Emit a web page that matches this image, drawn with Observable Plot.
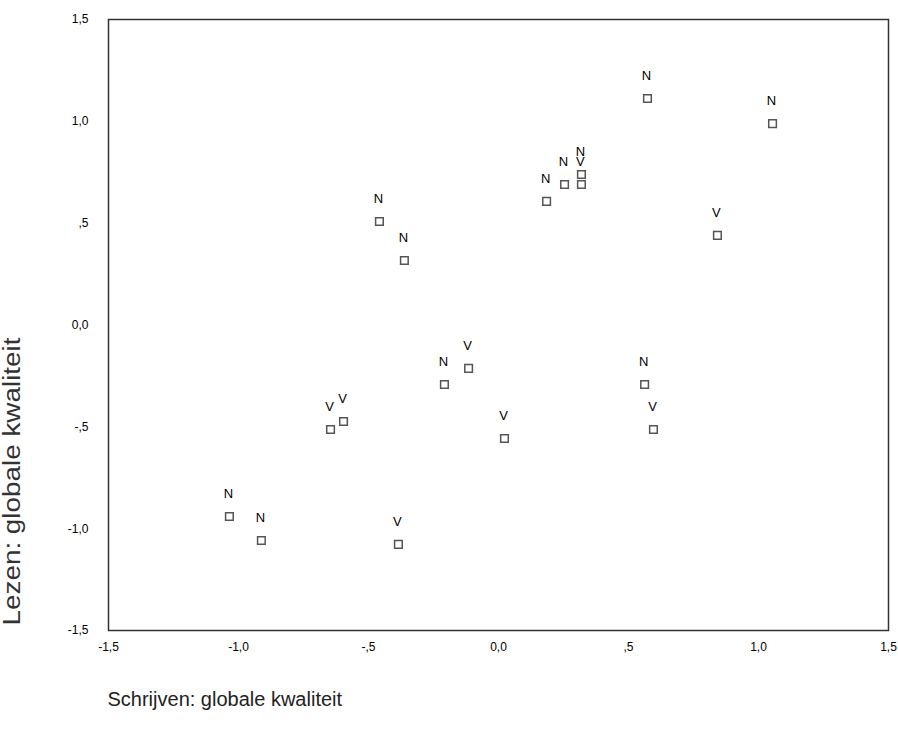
<!DOCTYPE html>
<html>
<head>
<meta charset="utf-8">
<script src="https://cdn.jsdelivr.net/npm/d3@7"></script>
<script src="https://cdn.jsdelivr.net/npm/@observablehq/plot@0.6"></script>
<style>
  html, body { margin: 0; padding: 0; background: #fff; }
  #chart svg { display: block; }
</style>
</head>
<body>
<div id="chart"></div>
<script>
// Data
const groups = ["N","N","N","N","N","N","N","N","N","N","N","V","V","V","V","V","V","V","V"];
const schrijven = [-1.035, -0.912, -0.208, 0.562, -0.458, -0.362, 0.185, 0.254, 0.319, 0.573, 1.054,
                   -0.385, -0.646, -0.596, -0.115, 0.023, 0.596, 0.842, 0.319];
const lezen = [-0.940, -1.058, -0.292, -0.292, 0.508, 0.317, 0.607, 0.690, 0.739, 1.112, 0.989,
               -1.077, -0.513, -0.474, -0.213, -0.557, -0.513, 0.440, 0.690];
const tickValues = [-1.5, -1.0, -0.5, 0.0, 0.5, 1.0, 1.5];
const tickLabels = ["-1,5", "-1,0", "-,5", "0,0", ",5", "1,0", "1,5"];
const xTitle = "Schrijven: globale kwaliteit";
const yTitle = "Lezen: globale kwaliteit";

const data = groups.map((g, i) => ({g, x: schrijven[i], y: lezen[i]}));
const fmt = d => tickLabels[tickValues.findIndex(t => Math.abs(t - d) < 1e-9)];

const chart = Plot.plot({
  width: 898,
  height: 733,
  marginLeft: 108,
  marginRight: 10,
  marginTop: 19,
  marginBottom: 103,
  style: {fontFamily: "'Liberation Sans', Arial, sans-serif", fontSize: "12px", color: "#000", background: "#fff"},
  x: {domain: [-1.5, 1.5], ticks: tickValues, tickFormat: fmt, label: null},
  y: {domain: [-1.5, 1.5], ticks: tickValues, tickFormat: fmt, label: null},
  marks: [
    Plot.axisX({ticks: tickValues, tickFormat: fmt, tickSize: 0, tickPadding: 12, fontSize: 12, label: null}),
    Plot.axisY({ticks: tickValues, tickFormat: fmt, tickSize: 0, tickPadding: 20, fontSize: 12, label: null}),
    Plot.frame({stroke: "#333", strokeWidth: 1.5}),
    Plot.dot(data, {x: "x", y: "y", symbol: "square", r: 4.3, stroke: "#555", strokeWidth: 1.5, fill: "#fff"}),
    Plot.text(data, {x: "x", y: "y", text: "g", dy: -23, dx: -1, fontSize: 13, fill: "#000"}),
    Plot.text([xTitle], {frameAnchor: "bottom-left", text: d => d, dy: 75, dx: -1, textAnchor: "start", fontSize: 20, fill: "#222"}),
    Plot.text([yTitle], {frameAnchor: "bottom-left", text: d => d, dx: -89, dy: -5, rotate: -90, textAnchor: "start", fontSize: 23, fill: "#333"})
  ]
});
d3.select(chart).selectAll("text")
  .filter(function() { return this.textContent === yTitle; })
  .attr("textLength", 288)
  .attr("lengthAdjust", "spacingAndGlyphs");
document.getElementById("chart").appendChild(chart);
</script>
</body>
</html>
